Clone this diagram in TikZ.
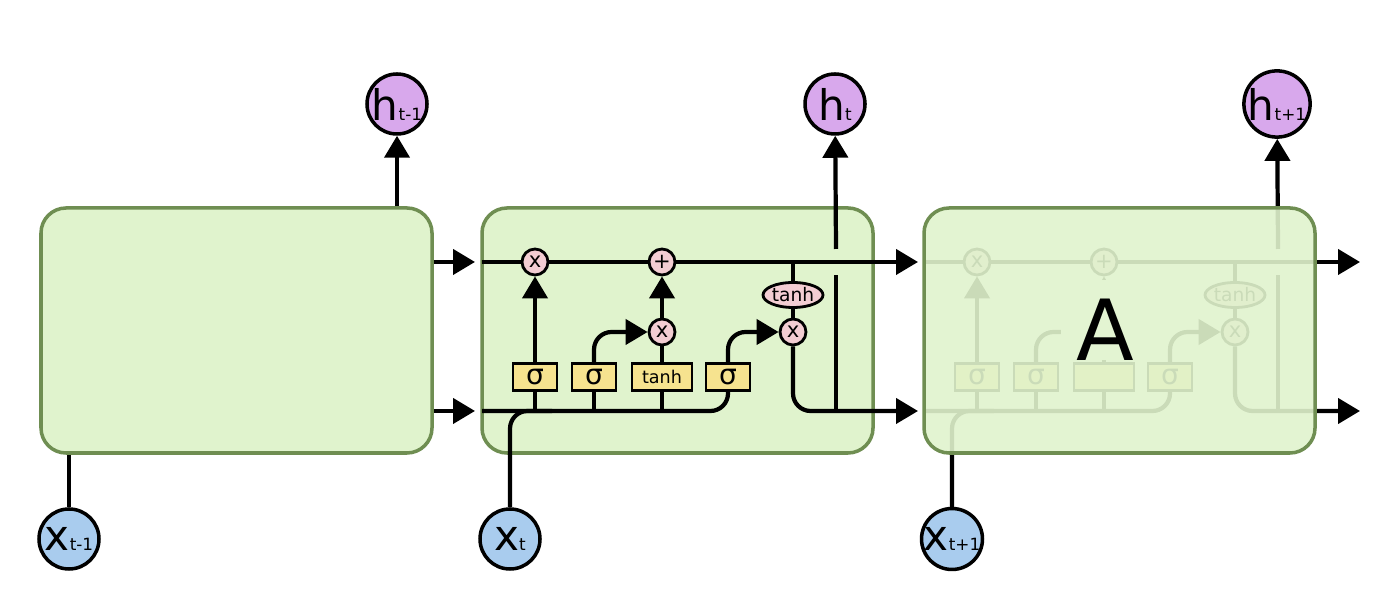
\documentclass[tikz,border=0pt]{standalone}
\usepackage{fontspec}
\setmainfont{DejaVu Sans}
\usepackage{tikz}
\usetikzlibrary{arrows.meta, positioning, shapes.geometric}
\usepackage{xcolor}
\definecolor{cellgreen}{HTML}{E0F3CD}
\definecolor{cellborder}{HTML}{6F8E52}
\definecolor{oppink}{HTML}{F3CDD3}
\definecolor{gateyellow}{HTML}{F6E38F}
\definecolor{hviolet}{HTML}{D8A8EC}
\definecolor{xblue}{HTML}{A9CCEE}
\tikzset{%
	cell/.style={
		rectangle,
		rounded corners=0.25cm,
		draw=cellborder,
		line width=1pt,
		fill=cellgreen,
		minimum width=3.91cm,
		minimum height=2.45cm
	},
	gate/.style={
		rectangle,
		draw,
		line width=0.8pt,
		fill=gateyellow,
		minimum width=0.44cm,
		minimum height=0.27cm,
		inner sep=0pt,
		font=\fontsize{8}{8}\selectfont
	},
	op/.style={
		circle,
		draw,
		line width=0.8pt,
		fill=oppink,
		minimum size=0.26cm,
		inner sep=0pt,
		font=\fontsize{6}{6}\selectfont
	},
	act/.style={
		ellipse,
		draw,
		line width=0.8pt,
		fill=oppink,
		minimum width=0.6cm,
		minimum height=0.25cm,
		inner sep=0pt,
		font=\fontsize{5.3}{6}\selectfont
	},
	hnode/.style={circle, draw, line width=1pt, fill=hviolet, minimum size=0.6cm, inner sep=0pt},
	xnode/.style={circle, draw, line width=1pt, fill=xblue, minimum size=0.6cm, inner sep=0pt},
	flow/.style={line width=1.2pt},
	tip/.style={-{Triangle[length=0.22cm, width=0.25cm]}},
}
\newcommand{\lbl}[2]{{\fontsize{12}{12}\selectfont #1}{\fontsize{4.8}{5}\selectfont #2}}

\begin{document}
\begin{tikzpicture}
	\useasboundingbox (0,0) rectangle (13.92,5.98);
	
	% Cells t-1 and t
	\node[cell] (cellA) at (2.365,2.675) {};
	\node[cell] (cellB) at (6.775,2.675) {};
	
	% Inside of cells t and t+1
	\foreach \L/\p/\s/\tn/\mx in {4.82/b/t/tanh/x, 9.24/c/t+1/{}/{}}{
		\begin{scope}[shift={(\L,0)}, name prefix=\p-]
			\coordinate (cin) at (0,3.36);
			\coordinate (cout) at (4.36,3.36);
			\coordinate (hin) at (0,1.87);
			\coordinate (hout) at (4.36,1.87);
			\coordinate (xj) at (0.7,1.87);
			\coordinate (ctap) at (3.11,3.36);
			\coordinate (hsplit) at (3.54,1.87);
			\coordinate (gapb) at (3.54,3.23);
			\coordinate (gapt) at (3.54,3.49);
			
			% Gates
			\node[gate] (s1) at (0.53,2.21) {σ};
			\node[gate] (s2) at (1.12,2.21) {σ};
			\node[gate, minimum width=0.6cm, font=\fontsize{5}{6}\selectfont] (th) at (1.80,2.21) {\tn};
			\node[gate] (s3) at (2.46,2.21) {σ};
			
			% Pointwise operations
			\node[op] (mf) at (0.53,3.36) {x};
			\node[op] (pl) at (1.80,3.36) {+};
			\node[op] (mi) at (1.80,2.66) {\mx};
			\node[op] (mo) at (3.11,2.66) {x};
			\node[act] (ta) at (3.11,3.03) {tanh};
			
			% Input and output
			\node[xnode] (x) at (0.28,0.59) {\lbl{x}{\s}};
			\node[hnode] (h) at (3.53,4.94) {\lbl{h}{\s}};
			
			% Cell state
			\draw[flow, tip] (cin) -- (mf) -- (pl) -- (cout);
			
			% Hidden state and input into the gates
			\draw[flow, rounded corners=5pt] (hin) -| (s3);
			\draw[flow, rounded corners=5pt] (x) |- (xj);
			\draw[flow] (s1 |- hin) -- (s1);
			\draw[flow] (s2 |- hin) -- (s2);
			\draw[flow] (th |- hin) -- (th);
			
			% Gates into the cell state
			\draw[flow, tip] (s1) -- (mf);
			\draw[flow, tip, rounded corners=5pt] (s2) |- (mi);
			\draw[flow] (th) -- (mi);
			\draw[flow, tip] (mi) -- (pl);
			\draw[flow, tip, rounded corners=5pt] (s3) |- (mo);
			
			% Output
			\draw[flow] (ctap) -- (ta) -- (mo);
			\draw[flow, tip, rounded corners=5pt] (mo) |- (hout);
			\draw[flow] (hsplit) -- (gapb);
			\draw[flow, tip] (gapt) -- (h);
		\end{scope}
	}
	
	% Cell t+1, seen through
	\node[cell, fill opacity=0.9] (cellC) at (11.195,2.675) {};
	\node[fill=cellgreen!90, anchor=south, inner sep=0pt, minimum width=0.88cm,
		text height=0.8cm, text depth=0pt, font=\fontsize{24}{24}\selectfont] (A) at (11.05,2.37) {A};
	
	% Cell t-1, outside only
	\node[hnode] (h1) at (3.97,4.94) {\lbl{h}{t-1}};
	\node[xnode] (x1) at (0.69,0.59) {\lbl{x}{t-1}};
	\coordinate (a-up) at (4.75,3.36);
	\coordinate (a-lo) at (4.75,1.87);
	\draw[flow] (x1) -- (x1 |- cellA.south);
	\draw[flow, tip] (h1 |- cellA.north) -- (h1);
	\draw[flow, tip] (cellA.east |- a-up) -- (a-up);
	\draw[flow, tip] (cellA.east |- a-lo) -- (a-lo);
	
\end{tikzpicture}
\end{document}
